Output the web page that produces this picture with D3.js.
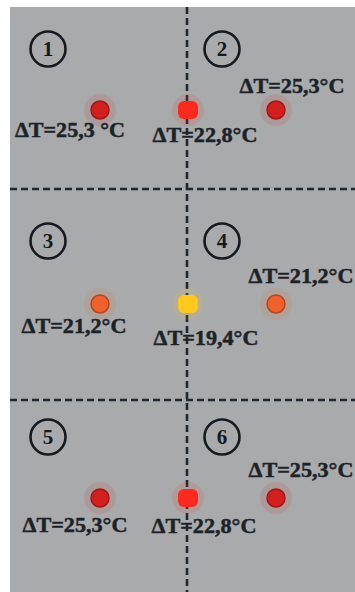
<!DOCTYPE html>
<html><head><meta charset="utf-8">
<script src="https://cdn.jsdelivr.net/npm/d3@7"></script>
<style>html,body{margin:0;padding:0;background:#fff;}svg{display:block;}</style>
</head><body>
<svg id="c" width="355" height="592"></svg>
<script>
// ---- data ----
const zones = ["1","2","3","4","5","6"];
const rows = ["top","middle","bottom"];
const cols = ["left","center","right"];
const deltaT = [
  [25.3, 22.8, 25.3],
  [21.2, 19.4, 21.2],
  [25.3, 22.8, 25.3]
];
const labels = [
  ["ΔT=25,3 °C", "ΔT=22,8°C", "ΔT=25,3°C"],
  ["ΔT=21,2°C", "ΔT=19,4°C", "ΔT=21,2°C"],
  ["ΔT=25,3°C", "ΔT=22,8°C", "ΔT=25,3°C"]
];

// ---- layout ----
const svg = d3.select("#c");
const panel = {x0: 10, y0: 7, x1: 355, y1: 592};

const x = d3.scalePoint().domain(cols).range([100, 276]);
const y = d3.scalePoint().domain(rows).range([110, 498]);
const zx = d3.scalePoint().domain(["a","b"]).range([48, 222]);
const zy = d3.scaleOrdinal().domain(rows).range([49, 241, 437]);
const color = d3.scaleLinear()
  .domain([19.4, 21.2, 22.8, 25.3])
  .range(["#ffc81e", "#f0602a", "#fb2a1e", "#d21f1f"]);

svg.append("rect").attr("x", panel.x0).attr("y", panel.y0)
  .attr("width", panel.x1 - panel.x0).attr("height", panel.y1 - panel.y0)
  .attr("fill", "#a9aaab");

// dashed dividers
const divX = 187;
const divY = [189, 400];
const dashStyle = s => s.attr("stroke", "#1f2830").attr("stroke-width", 2.6)
  .attr("stroke-dasharray", "7,4");
svg.append("line").attr("x1", divX).attr("x2", divX)
  .attr("y1", panel.y0).attr("y2", panel.y1).call(dashStyle);
svg.selectAll(".hdiv").data(divY).join("line").attr("class", "hdiv")
  .attr("x1", panel.x0).attr("x2", panel.x1)
  .attr("y1", d => d).attr("y2", d => d).call(dashStyle);

// zone markers
const zg = svg.selectAll(".zone").data(zones).join("g").attr("class", "zone")
  .attr("transform", (d, i) => `translate(${zx(i % 2 ? "b" : "a")},${zy(rows[Math.floor(i / 2)])})`);
zg.append("circle").attr("r", 17.5).attr("fill", "none")
  .attr("stroke", "#141a1f").attr("stroke-width", 2.6);
zg.append("text").text(d => d).attr("text-anchor", "middle").attr("dy", "0.35em")
  .attr("font-family", "Liberation Serif, serif").attr("font-weight", "bold")
  .attr("font-size", 21).attr("fill", "#141a1f");

// points
const pts = [];
rows.forEach((r, ri) => cols.forEach((c, ci) => pts.push({r, c, ri, ci, v: deltaT[ri][ci], label: labels[ri][ci]})));

const labelOff = {
  left:   [[-30, 27], [-26, 29], [-25, 34]],
  center: [[17, 32], [18, 41], [16, 35]],
  right:  [[16, -17], [25, -21], [25, -21]]
};

const pg = svg.selectAll(".pt").data(pts).join("g").attr("class", "pt")
  .attr("transform", d => `translate(${x(d.c)},${y(d.r)})`);
pg.append("circle").attr("r", 16).attr("fill", d => color(d.v)).attr("opacity", 0.12);
pg.each(function(d) {
  const g = d3.select(this);
  if (d.c === "center") {
    g.append("rect").attr("x", -10).attr("y", -9).attr("width", 20).attr("height", 18)
      .attr("rx", 6).attr("fill", color(d.v));
  } else {
    g.append("circle").attr("r", 9).attr("fill", color(d.v))
      .attr("stroke", d3.color(color(d.v)).darker(0.8)).attr("stroke-width", 1.5);
  }
});
pg.append("text").text(d => d.label)
  .attr("x", d => labelOff[d.c][d.ri][0]).attr("y", d => labelOff[d.c][d.ri][1])
  .attr("text-anchor", "middle")
  .attr("textLength", d => d.label.includes(" ") ? 110 : 105).attr("lengthAdjust", "spacingAndGlyphs")
  .attr("font-family", "Liberation Serif, serif").attr("font-weight", "bold")
  .attr("font-size", 22).attr("fill", "#1c2328")
  .attr("stroke", "#1c2328").attr("stroke-width", 0.5);
</script>
</body></html>
